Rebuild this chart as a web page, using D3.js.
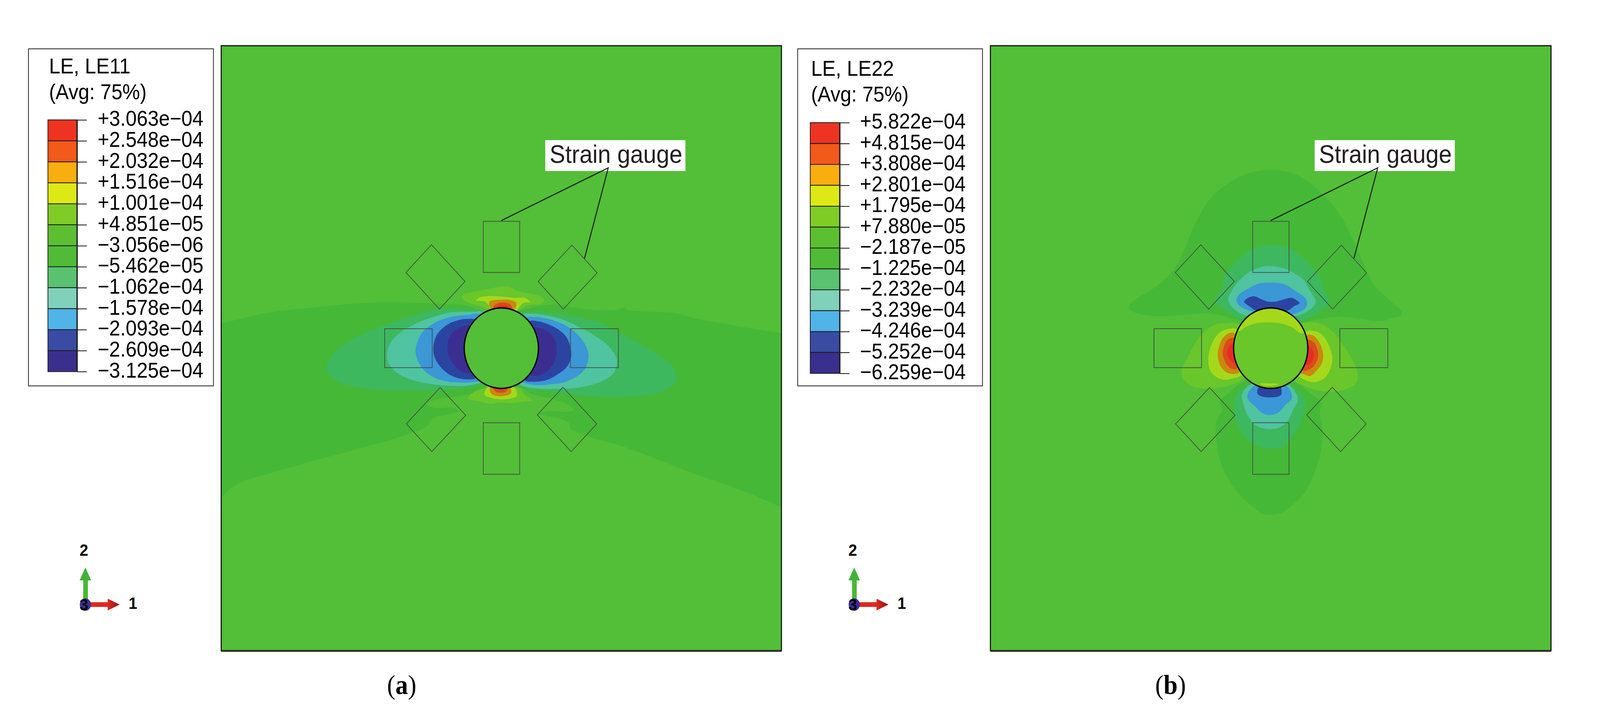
<!DOCTYPE html>
<html>
<head>
<meta charset="utf-8">
<script src="https://cdn.jsdelivr.net/npm/d3@7"></script>
<style>
  html, body { margin: 0; padding: 0; background: #fff; overflow: hidden; }
  svg { display: block; width: 100vw; height: 100vh; }
  text { font-family: "Liberation Sans", Arial, sans-serif; }
</style>
</head>
<body>
<svg id="chart" viewBox="0 0 4441 1841" preserveAspectRatio="none"></svg>
<script>
// legend values
const labelsA = ["+3.063e\u221204","+2.548e\u221204","+2.032e\u221204","+1.516e\u221204","+1.001e\u221204","+4.851e\u221205","\u22123.056e\u221206","\u22125.462e\u221205","\u22121.062e\u221204","\u22121.578e\u221204","\u22122.093e\u221204","\u22122.609e\u221204","\u22123.125e\u221204"];
const labelsB = ["+5.822e\u221204","+4.815e\u221204","+3.808e\u221204","+2.801e\u221204","+1.795e\u221204","+7.880e\u221205","\u22122.187e\u221205","\u22121.225e\u221204","\u22122.232e\u221204","\u22123.239e\u221204","\u22124.246e\u221204","\u22125.252e\u221204","\u22126.259e\u221204"];
const swatches = ["#ef3323","#f3591b","#f9ae0f","#dde815","#80cc27","#5cbf31","#50bb36","#58c270","#80d1b9","#50b4e8","#3a4ba4","#3b2f8d"];

// colours of the contour bands as they look in the plot
const fieldColors = {
  base: "#53be38", band: "#45b838", teal1: "#3db85f", teal2: "#50c3a0", blue: "#3b97d6",
  navy: "#2c44a1", purple: "#3b2e90", lime: "#69c62b", ygreen: "#a5d81b",
  amber: "#c9880f", orange: "#dc4a1a", red: "#e92b22"
};

// gauges, model coordinates centred on the hole
const gaugeRects = [
  [[-50,-325],[51,-325],[51,-194],[-50,-194]],
  [[-50,191],[51,191],[51,323],[-50,323]],
  [[-324,-50],[-192,-50],[-192,50],[-324,50]],
  [[192,-50],[325,-50],[325,50],[192,50]]
];
const gaugeDiamonds = [
  [[-265,-194],[-194,-265],[-101,-171],[-172,-100]],
  [[-264,194],[-170,101],[-99,172],[-193,265]],
  [[102,-171],[196,-264],[266,-193],[172,-100]],
  [[100,171],[171,100],[265,194],[194,265]]
];
const leaderLine = [[0,-327],[297,-462],[231,-230]];

// panel (a) LE11 contours
const aBand = [[-840,-55],[-778,-64],[-639,-92],[-512,-105],[-422,-113],[-322,-118],[-229,-116],[-145,-113],[-95,-109],[-49,-93],[51,-96],[105,-108],[158,-111],[241,-99],[325,-99],[338,-104],[355,-97],[425,-93],[488,-89],[535,-77],[778,-38],[840,-28],[840,435],[778,408],[688,372],[535,321],[331,250],[241,226],[193,206],[188,192],[158,179],[105,168],[125,162],[181,163],[201,157],[181,142],[141,131],[85,117],[48,99],[-45,99],[-82,116],[-145,126],[-172,129],[-210,142],[-179,154],[-135,152],[-119,161],[-179,176],[-197,184],[-205,199],[-245,216],[-312,236],[-402,259],[-588,306],[-741,352],[-778,383],[-840,410]];
const aTeal1L = [[-52,-94],[-95,-99],[-145,-101],[-195,-96],[-245,-83],[-312,-63],[-372,-41],[-412,-23],[-452,2],[-475,26],[-485,49],[-477,69],[-455,84],[-419,96],[-379,102],[-329,107],[-245,108],[-179,107],[-112,102],[-72,96],[-45,89]];
const aTeal1R = [[51,-86],[91,-93],[158,-89],[208,-81],[275,-64],[341,-33],[408,2],[475,46],[485,66],[488,81],[468,99],[428,116],[375,122],[308,125],[241,122],[175,115],[108,107],[58,99]];
const aTeal2L = [[-49,-91],[-79,-93],[-145,-91],[-185,-81],[-235,-64],[-279,-41],[-305,-18],[-315,2],[-317,26],[-312,42],[-285,66],[-245,82],[-195,92],[-145,96],[-95,96],[-72,92],[-52,84]];
const aTeal2R = [[58,-84],[85,-88],[125,-84],[168,-74],[208,-58],[258,-33],[295,-8],[315,16],[321,36],[313,62],[291,79],[258,92],[215,101],[158,104],[108,104],[68,99],[51,92]];
const aBlueL = [[-55,-84],[-95,-85],[-145,-79],[-187,-64],[-219,-41],[-235,-11],[-238,9],[-232,32],[-212,59],[-182,77],[-145,86],[-112,88],[-82,87],[-55,79]];
const aBlueR = [[65,-76],[91,-80],[125,-76],[168,-63],[201,-44],[225,-21],[240,6],[242,22],[235,49],[215,69],[175,87],[141,92],[98,95],[65,89],[51,82]];
const aNavyL = [[-72,-71],[-95,-75],[-122,-71],[-152,-59],[-179,-34],[-189,-1],[-184,26],[-165,52],[-135,72],[-92,80],[-69,74]];
const aNavyR = [[78,-68],[100,-69],[131,-61],[158,-48],[181,-28],[193,2],[193,26],[181,49],[158,66],[128,81],[88,86],[65,81]];
const aPurpleL = [[-85,-56],[-107,-56],[-132,-44],[-147,-21],[-149,6],[-140,32],[-122,52],[-102,63],[-75,59]];
const aPurpleR = [[91,-51],[110,-51],[135,-38],[150,-18],[154,6],[150,29],[135,52],[115,66],[98,71],[81,68]];
const aLimeT = [[-109,-132],[-102,-139],[-69,-146],[-29,-153],[-2,-158],[21,-158],[41,-148],[71,-141],[105,-134],[115,-128],[120,-124],[108,-113],[78,-111],[55,-101],[38,-94],[-35,-94],[-49,-104],[-79,-113],[-102,-121]];
const aYgreenT = [[-70,-122],[-62,-129],[-45,-133],[-12,-133],[38,-129],[65,-129],[80,-118],[61,-116],[51,-106],[41,-96],[-29,-96],[-34,-108],[-45,-119]];
const aAmberT = [[-33,-119],[1,-124],[25,-123],[41,-116],[36,-99],[-27,-99]];
const aOrangeT = [[-20,-109],[-5,-116],[15,-116],[26,-111],[30,-99],[-22,-99]];
const aRedT = [[-9,-108],[5,-110],[18,-108],[21,-99],[-12,-99]];
const aLimeB = [[-92,129],[-82,116],[-49,104],[51,104],[65,119],[86,134],[65,137],[25,141],[-5,139],[-29,143],[-49,139],[-69,134],[-85,133]];
const aYgreenB = [[-47,116],[-37,99],[35,99],[43,122],[25,129],[-5,131],[-29,127],[-45,121]];
const aAmberB = [[-30,99],[24,99],[26,116],[8,122],[-15,122],[-30,114]];
const aOrangeB = [[-23,99],[18,99],[13,111],[-2,114],[-15,112]];
const aRedB = [[-12,101],[8,101],[3,106],[-5,106]];

// panel (b) LE22 contours
const bBandT = [[-395,-102],[-385,-118],[-321,-156],[-277,-191],[-245,-242],[-207,-325],[-162,-389],[-105,-430],[-41,-453],[23,-456],[87,-437],[144,-395],[195,-338],[246,-242],[284,-166],[323,-128],[364,-92],[361,-83],[335,-77],[310,-70],[189,-80],[93,-67],[74,-64],[-79,-70],[-162,-88],[-321,-82],[-379,-92]];
const bBandB = [[-140,137],[-136,159],[-149,185],[-152,230],[-136,300],[-98,364],[-47,408],[-22,424],[23,424],[61,402],[99,364],[131,293],[144,230],[141,185],[135,166],[141,140],[99,108],[61,80],[-66,83],[-117,115]];
const bTeal1T = [[-156,-121],[-133,-153],[-130,-179],[-92,-226],[-47,-255],[1,-265],[55,-255],[99,-223],[138,-179],[144,-153],[163,-115],[144,-99],[80,-70],[-73,-73],[-130,-99]];
const bTeal1B = [[-47,89],[-98,124],[-101,159],[-85,210],[-54,242],[-3,258],[36,252],[68,217],[87,179],[96,140],[87,121],[45,92]];
const bTeal2T = [[-70,-84],[-110,-108],[-118,-126],[-110,-144],[-87,-174],[-54,-198],[-20,-209],[6,-210],[40,-204],[66,-191],[93,-173],[106,-151],[125,-121],[120,-108],[73,-83]];
const bTeal2B = [[-54,92],[-80,119],[-77,139],[-64,172],[-44,196],[-20,206],[6,207],[33,199],[50,182],[63,156],[75,136],[73,121],[46,92]];
const bBlueT = [[-50,-94],[-87,-109],[-95,-123],[-89,-136],[-60,-154],[-34,-165],[0,-168],[36,-164],[73,-144],[98,-126],[101,-114],[95,-101],[56,-86]];
const bBlueB = [[-45,96],[-65,125],[-40,152],[-20,168],[0,171],[20,166],[40,146],[59,127],[43,96]];
const bNavyT = [[-74,-119],[-64,-128],[-47,-133],[-27,-126],[-7,-119],[13,-119],[33,-124],[56,-129],[70,-124],[80,-115],[66,-108],[46,-96],[-40,-96],[-57,-106]];
const bNavyB = [[-32,99],[-37,116],[-24,124],[0,126],[23,123],[30,117],[26,99]];
const bLimeL = [[-79,-57],[-130,-64],[-162,-57],[-200,-26],[-232,26],[-247,57],[-242,80],[-213,99],[-168,103],[-117,96],[-73,73]];
const bLimeR = [[80,-57],[131,-65],[169,-45],[207,0],[235,45],[242,70],[235,92],[196,108],[145,110],[99,99],[61,77]];
const bYgreenL = [[-95,-48],[-114,-50],[-140,-41],[-160,-18],[-172,16],[-170,52],[-154,72],[-127,81],[-104,77],[-80,67]];
const bYgreenR = [[96,-41],[120,-44],[143,-34],[163,-4],[171,26],[163,59],[146,79],[120,87],[96,82],[76,67]];
const bAmberL = [[-99,-37],[-117,-38],[-134,-24],[-145,2],[-147,19],[-139,46],[-124,61],[-107,66],[-87,61]];
const bAmberR = [[101,-33],[116,-33],[133,-18],[145,12],[143,36],[126,59],[110,71],[93,67],[81,61]];
const bOrangeL = [[-102,-26],[-120,-21],[-130,-4],[-133,16],[-124,39],[-110,52],[-94,52]];
const bOrangeR = [[101,-21],[120,-14],[131,9],[130,29],[116,49],[101,57],[88,57]];
const bRedL = [[-103,-14],[-115,-4],[-121,12],[-114,29],[-99,38]];
const bRedR = [[103,-8],[116,6],[120,19],[113,36],[95,44]];
// drawn inside the hole of (b)
const bHoleTop = [[-89,-43],[-70,-54],[-40,-64],[-3,-66],[30,-63],[60,-53],[86,-38],[120,-60],[60,-125],[-60,-125],[-120,-60]];
const bHoleBottom = [[-30,91],[-10,90],[23,92],[6,96],[-20,96]];

const layersA = [
  [aBand,"band"],[aTeal1L,"teal1"],[aTeal1R,"teal1"],[aTeal2L,"teal2"],[aTeal2R,"teal2"],
  [aBlueL,"blue"],[aBlueR,"blue"],[aNavyL,"navy"],[aNavyR,"navy"],[aPurpleL,"purple"],[aPurpleR,"purple"],
  [aLimeT,"lime"],[aYgreenT,"ygreen"],[aAmberT,"amber"],[aOrangeT,"orange"],[aRedT,"red"],
  [aLimeB,"lime"],[aYgreenB,"ygreen"],[aAmberB,"amber"],[aOrangeB,"orange"],[aRedB,"red"]
];
const layersB = [
  [bBandT,"band"],[bBandB,"band"],[bTeal1T,"teal1"],[bTeal1B,"teal1"],[bTeal2T,"teal2"],[bTeal2B,"teal2"],
  [bBlueT,"blue"],[bBlueB,"blue"],[bNavyT,"navy"],[bNavyB,"navy"],
  [bLimeL,"lime"],[bLimeR,"lime"],[bYgreenL,"ygreen"],[bYgreenR,"ygreen"],
  [bAmberL,"amber"],[bAmberR,"amber"],[bOrangeL,"orange"],[bOrangeR,"orange"],[bRedL,"red"],[bRedR,"red"]
];
const holeLayersB = [[bHoleTop,"ygreen"],[bHoleBottom,"ygreen"]];

const svg = d3.select("#chart");
const defs = svg.append("defs");

const headRed = defs.append("linearGradient").attr("id", "headRed");
headRed.append("stop").attr("offset", "0%").attr("stop-color", "#e0261f");
headRed.append("stop").attr("offset", "100%").attr("stop-color", "#8e1712");

function drawPanel(id, left, right, layers, holeFill, holeLayers) {
  const top = 117, bottom = 1666;
  const x = d3.scaleLinear().domain([-778, 778]).range([left, right]);
  const y = d3.scaleLinear().domain([-775, 775]).range([top, bottom]);
  const smooth = d3.line().x(d => x(d[0])).y(d => y(d[1])).curve(d3.curveCatmullRomClosed.alpha(0.5));
  const closed = d3.line().x(d => x(d[0])).y(d => y(d[1])).curve(d3.curveLinearClosed);
  const open = d3.line().x(d => x(d[0])).y(d => y(d[1]));

  defs.append("clipPath").attr("id", "clip" + id).append("rect")
    .attr("x", left).attr("y", top).attr("width", right - left).attr("height", bottom - top);
  defs.append("clipPath").attr("id", "hole" + id).append("circle")
    .attr("cx", x(0)).attr("cy", y(0)).attr("r", x(103) - x(0));

  const g = svg.append("g");
  g.append("rect").attr("x", left).attr("y", top).attr("width", right - left).attr("height", bottom - top)
    .attr("fill", fieldColors.base);

  g.append("g").attr("clip-path", "url(#clip" + id + ")")
    .selectAll("path").data(layers).enter().append("path")
    .attr("d", d => smooth(d[0]))
    .attr("fill", d => fieldColors[d[1]]);

  // hole
  g.append("circle").attr("cx", x(0)).attr("cy", y(0)).attr("r", x(103) - x(0)).attr("fill", holeFill);
  g.append("g").attr("clip-path", "url(#hole" + id + ")")
    .selectAll("path").data(holeLayers).enter().append("path")
    .attr("d", d => smooth(d[0]))
    .attr("fill", d => fieldColors[d[1]]);
  g.append("circle").attr("cx", x(0)).attr("cy", y(0)).attr("r", x(103) - x(0))
    .attr("fill", "none").attr("stroke", "#000").attr("stroke-width", 3.5);

  // gauges
  g.selectAll(".gauge").data(gaugeRects.concat(gaugeDiamonds)).enter().append("path")
    .attr("class", "gauge")
    .attr("d", closed)
    .attr("fill", "none").attr("stroke", "#444").attr("stroke-width", 1.8);

  // strain gauge label
  g.append("rect").attr("x", x(122)).attr("y", y(-533)).attr("width", 389).attr("height", 79).attr("fill", "#fff");
  g.append("text").attr("x", x(134)).attr("y", y(-475))
    .attr("font-size", 65).attr("fill", "#231f20").text("Strain gauge");
  g.append("path").attr("d", open(leaderLine))
    .attr("fill", "none").attr("stroke", "#231f20").attr("stroke-width", 2.8);

  // frame
  g.append("rect").attr("x", left).attr("y", top).attr("width", right - left).attr("height", bottom - top)
    .attr("fill", "none").attr("stroke", "#111").attr("stroke-width", 3);
  g.append("line").attr("x1", left).attr("x2", right).attr("y1", bottom + 1.5).attr("y2", bottom + 1.5)
    .attr("stroke", "#333").attr("stroke-width", 3);
}

function drawLegend(box, labels, title) {
  const g = svg.append("g");
  g.append("rect").attr("x", box.x0).attr("y", 125).attr("width", box.x1 - box.x0).attr("height", 863)
    .attr("fill", "#fff").attr("stroke", "#444").attr("stroke-width", 2.5);

  g.append("text").attr("x", box.textX).attr("y", box.titleY).attr("font-size", 56).text(title);
  g.append("text").attr("x", box.textX).attr("y", box.titleY + 66).attr("font-size", 55).text("(Avg: 75%)");

  const y = d3.scalePoint().domain(labels).range([box.top, box.bottom]);
  g.selectAll(".sw").data(swatches).enter().append("rect")
    .attr("class", "sw")
    .attr("x", box.swLeft).attr("width", box.swRight - box.swLeft)
    .attr("y", (d, i) => y(labels[i]))
    .attr("height", (d, i) => y(labels[i + 1]) - y(labels[i]))
    .attr("fill", d => d)
    .attr("stroke", "#1a1a1a").attr("stroke-width", 2);
  g.append("line").attr("x1", box.swRight).attr("x2", box.swRight).attr("y1", box.top).attr("y2", box.bottom)
    .attr("stroke", "#1a1a1a").attr("stroke-width", 3.5);

  const axis = g.append("g").attr("transform", "translate(" + box.swRight + ",0)")
    .call(d3.axisRight(y).tickSize(27).tickPadding(box.pad));
  axis.select(".domain").remove();
  axis.selectAll("line").attr("stroke", "#111").attr("stroke-width", 2);
  axis.selectAll("text").attr("font-size", 55).attr("fill", "#000")
    .attr("font-family", "Liberation Sans").attr("dy", "0.27em");
}

function drawTriad(dx) {
  const g = svg.append("g").attr("transform", "translate(" + dx + ",0)");
  g.append("rect").attr("x", 231).attr("y", 1486).attr("width", 13).attr("height", 62).attr("fill", "#49b833");
  g.append("path").attr("d", "M237,1453L253,1486L221,1486Z").attr("fill", "#3fb337");
  g.append("rect").attr("x", 237).attr("y", 1542).attr("width", 63).attr("height", 12).attr("fill", "#e1261f");
  g.append("path").attr("d", "M332,1548L299,1533L299,1563Z").attr("fill", "url(#headRed)");
  g.append("ellipse").attr("cx", 237).attr("cy", 1548).attr("rx", 15.5).attr("ry", 16).attr("fill", "#3b2f9a");
  g.append("text").attr("x", 233).attr("y", 1423).attr("text-anchor", "middle")
    .attr("font-size", 43).attr("font-weight", "bold").text("2");
  g.append("text").attr("x", 233).attr("y", 1563).attr("text-anchor", "middle")
    .attr("font-size", 43).attr("font-weight", "bold").text("3");
  g.append("text").attr("x", 369).attr("y", 1559).attr("text-anchor", "middle")
    .attr("font-size", 43).attr("font-weight", "bold").text("1");
}

function drawCaption(x, letter) {
  const t = svg.append("text").attr("x", x).attr("y", 1777).attr("text-anchor", "middle")
    .attr("font-size", 70).style("font-family", "'Liberation Serif', serif").attr("fill", "#000");
  t.append("tspan").text("(");
  t.append("tspan").attr("font-weight", "bold").text(letter);
  t.append("tspan").text(")");
}

drawPanel("A", 614, 2169, layersA, fieldColors.base, []);
drawPanel("B", 2749, 4305, layersB, fieldColors.lime, holeLayersB);

drawLegend({x0: 79, x1: 592.5, textX: 136, titleY: 188, top: 307, bottom: 951.5, swLeft: 133, swRight: 214, pad: 30}, labelsA, "LE, LE11");
drawLegend({x0: 2214, x1: 2727, textX: 2251, titleY: 194, top: 314, bottom: 956, swLeft: 2249, swRight: 2331, pad: 29}, labelsB, "LE, LE22");

drawTriad(0);
drawTriad(2134);
drawCaption(1115, "a");
drawCaption(3249, "b");
</script>
</body>
</html>
